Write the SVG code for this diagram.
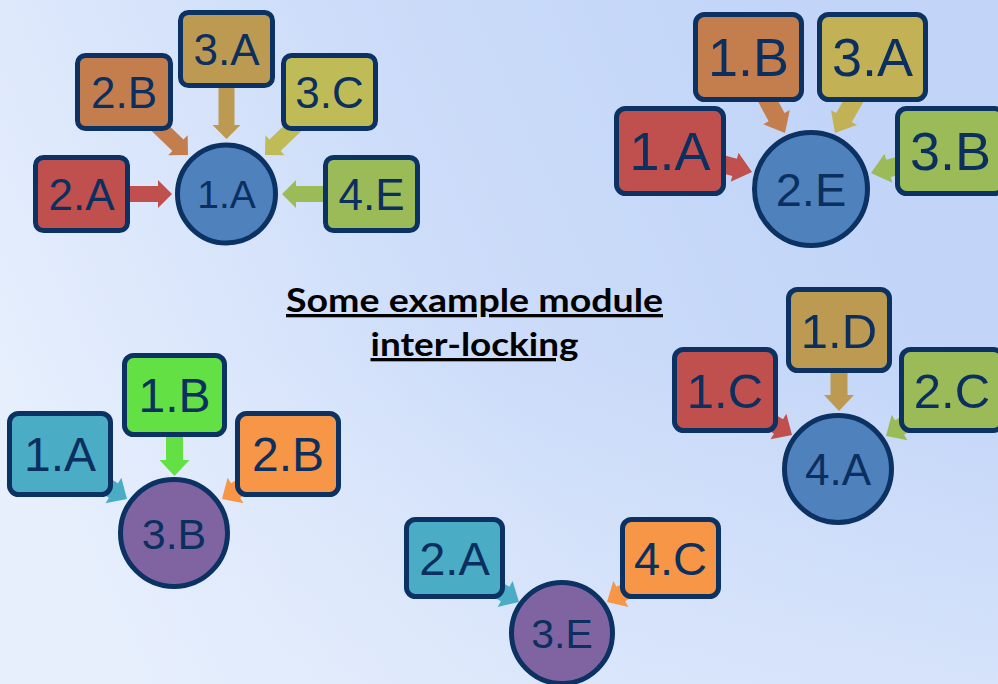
<svg xmlns="http://www.w3.org/2000/svg" width="998" height="684" viewBox="0 0 998 684">
<defs>
<linearGradient id="bg" gradientUnits="userSpaceOnUse" x1="0" y1="450" x2="820" y2="80">
<stop offset="0" stop-color="#E8F0FD"/>
<stop offset="0.55" stop-color="#CCDCF9"/>
<stop offset="1" stop-color="#C2D5F8"/>
</linearGradient>
<linearGradient id="bg2" gradientUnits="userSpaceOnUse" x1="0" y1="350" x2="0" y2="684">
<stop offset="0" stop-color="#E6EEFC" stop-opacity="0"/>
<stop offset="1" stop-color="#E6EEFC" stop-opacity="0.5"/>
</linearGradient>
</defs>
<style>
.box{stroke:#0B3262;stroke-width:5;}
.circ{stroke:#0B3262;stroke-width:5;}
.lbl{font-family:"Liberation Sans",Arial,sans-serif;fill:#0B2F5E;text-anchor:middle;}
.title{font-family:Lato,"Open Sans",sans-serif;font-weight:bold;fill:#000;text-anchor:middle;text-decoration:underline;}
.red{fill:#C0504D;} .brn{fill:#C47E4E;} .tan{fill:#BD9A52;} .olv{fill:#BFBC58;} .olv2{fill:#C3B255;}
.grn{fill:#9BBB59;} .teal{fill:#4BACC6;} .lime{fill:#62E044;} .org{fill:#F79646;} .blu{fill:#4F81BD;} .pur{fill:#8064A2;}
</style>
<rect width="998" height="684" fill="url(#bg)"/>
<rect width="998" height="684" fill="url(#bg2)"/>

<g id="connectors">
<!-- top-left cluster -->
<path class="red" d="M-50,-8H-14V-14L0,0L-14,14V8H-50Z" transform="translate(172,194)"/>
<path class="tan" d="M-60,-8H-14V-14L0,0L-14,14V8H-60Z" transform="translate(226.5,139) rotate(90)"/>
<path class="grn" d="M-50,-8H-14V-14L0,0L-14,14V8H-50Z" transform="translate(282,194) rotate(180)"/>
<path class="brn" d="M-45,-8H-14V-14L0,0L-14,14V8H-45Z" transform="translate(188,155) rotate(44)"/>
<path class="olv" d="M-45,-8H-14V-14L0,0L-14,14V8H-45Z" transform="translate(265,155) rotate(136)"/>
<!-- top-right cluster -->
<path class="red" d="M-40,-9H-18V-15L0,0L-18,15V9H-40Z" transform="translate(752,172) rotate(15)"/>
<path class="brn" d="M-45,-9H-18V-15L0,0L-18,15V9H-45Z" transform="translate(785,133) rotate(62)"/>
<path class="olv2" d="M-45,-9H-18V-15L0,0L-18,15V9H-45Z" transform="translate(835,133) rotate(120)"/>
<path class="grn" d="M-40,-9H-18V-15L0,0L-18,15V9H-40Z" transform="translate(871,173) rotate(165)"/>
<!-- bottom-left cluster -->
<path class="lime" d="M-50,-8.5H-16V-15L0,0L-16,15V8.5H-50Z" transform="translate(174.5,476) rotate(90)"/>
<path class="teal" d="M-40,-8.5H-16V-15L0,0L-16,15V8.5H-40Z" transform="translate(127,499) rotate(32)"/>
<path class="org" d="M-40,-8.5H-16V-15L0,0L-16,15V8.5H-40Z" transform="translate(222,499) rotate(148)"/>
<!-- right-middle cluster -->
<path class="tan" d="M-50,-8.5H-16V-15L0,0L-16,15V8.5H-50Z" transform="translate(839,411) rotate(90)"/>
<path class="red" d="M-40,-8.5H-16V-15L0,0L-16,15V8.5H-40Z" transform="translate(792,435) rotate(32)"/>
<path class="grn" d="M-40,-8.5H-16V-15L0,0L-16,15V8.5H-40Z" transform="translate(886,436) rotate(148)"/>
<!-- bottom-center cluster -->
<path class="teal" d="M-38,-8.5H-16V-15L0,0L-16,15V8.5H-38Z" transform="translate(519,602) rotate(30)"/>
<path class="org" d="M-38,-8.5H-16V-15L0,0L-16,15V8.5H-38Z" transform="translate(607,602) rotate(150)"/>
</g>

<!-- top-left cluster -->
<g id="tl-3A"><rect class="box tan" x="180.5" y="12.5" width="92" height="73" rx="8"/><text class="lbl" x="226.5" y="64.8" font-size="44">3.A</text></g>
<g id="tl-2B"><rect class="box brn" x="77.5" y="55.5" width="93" height="73" rx="8"/><text class="lbl" x="124" y="107.8" font-size="44">2.B</text></g>
<g id="tl-3C"><rect class="box olv" x="283.5" y="55.5" width="92" height="73" rx="8"/><text class="lbl" x="329.5" y="107.8" font-size="44">3.C</text></g>
<g id="tl-2A"><rect class="box red" x="35.5" y="157.5" width="92" height="73" rx="8"/><text class="lbl" x="81.5" y="209.8" font-size="44">2.A</text></g>
<g id="tl-4E"><rect class="box grn" x="325.5" y="157.5" width="92" height="73" rx="8"/><text class="lbl" x="371.5" y="209.8" font-size="44">4.E</text></g>
<g id="tl-1A"><circle class="circ blu" cx="226.5" cy="194" r="49"/><text class="lbl" x="226.5" y="208" font-size="39">1.A</text></g>

<!-- top-right cluster -->
<g id="tr-1B"><rect class="box brn" x="695.5" y="14.5" width="106" height="85" rx="9"/><text class="lbl" x="748.5" y="76.3" font-size="54">1.B</text></g>
<g id="tr-3A"><rect class="box olv2" x="819.5" y="14.5" width="106" height="85" rx="9"/><text class="lbl" x="872.5" y="76.3" font-size="54">3.A</text></g>
<g id="tr-1A"><rect class="box red" x="616.5" y="108.5" width="107" height="85" rx="9"/><text class="lbl" x="670" y="170.3" font-size="54">1.A</text></g>
<g id="tr-3B"><rect class="box grn" x="897.5" y="108.5" width="106" height="85" rx="9"/><text class="lbl" x="950.5" y="170.3" font-size="54">3.B</text></g>
<g id="tr-2E"><circle class="circ blu" cx="811" cy="189" r="56.5"/><text class="lbl" x="811" y="205.5" font-size="47">2.E</text></g>

<!-- title -->
<g id="title">
<text class="title" x="474.5" y="312" font-size="33" textLength="377" lengthAdjust="spacingAndGlyphs">Some example module</text>
<text class="title" x="474.5" y="356" font-size="33" textLength="208" lengthAdjust="spacingAndGlyphs">inter-locking</text>
</g>

<!-- bottom-left cluster -->
<g id="bl-1B"><rect class="box lime" x="124.5" y="355.5" width="100" height="79" rx="9"/><text class="lbl" x="174.5" y="412" font-size="48">1.B</text></g>
<g id="bl-1A"><rect class="box teal" x="9.5" y="413.5" width="101" height="81" rx="9"/><text class="lbl" x="60" y="471" font-size="48">1.A</text></g>
<g id="bl-2B"><rect class="box org" x="237.5" y="413.5" width="101" height="81" rx="9"/><text class="lbl" x="288" y="471" font-size="48">2.B</text></g>
<g id="bl-3B"><circle class="circ pur" cx="174" cy="533" r="53.5"/><text class="lbl" x="174" y="548.5" font-size="43">3.B</text></g>

<!-- right-middle cluster -->
<g id="rm-1D"><rect class="box tan" x="788.5" y="289.5" width="101" height="81" rx="9"/><text class="lbl" x="839" y="347.5" font-size="49">1.D</text></g>
<g id="rm-1C"><rect class="box red" x="674.5" y="349.5" width="101" height="81" rx="9"/><text class="lbl" x="725" y="407.5" font-size="49">1.C</text></g>
<g id="rm-2C"><rect class="box grn" x="901.5" y="349.5" width="101" height="81" rx="9"/><text class="lbl" x="952" y="407.5" font-size="49">2.C</text></g>
<g id="rm-4A"><circle class="circ blu" cx="838" cy="469" r="53.5"/><text class="lbl" x="838" y="484.8" font-size="44">4.A</text></g>

<!-- bottom-center cluster -->
<g id="bc-2A"><rect class="box teal" x="406.5" y="519.5" width="96" height="77" rx="9"/><text class="lbl" x="454.5" y="574.8" font-size="47">2.A</text></g>
<g id="bc-4C"><rect class="box org" x="622.5" y="519.5" width="96" height="77" rx="9"/><text class="lbl" x="670.5" y="574.8" font-size="47">4.C</text></g>
<g id="bc-3E"><circle class="circ pur" cx="562" cy="633" r="50.5"/><text class="lbl" x="562" y="647.7" font-size="41">3.E</text></g>
</svg>
